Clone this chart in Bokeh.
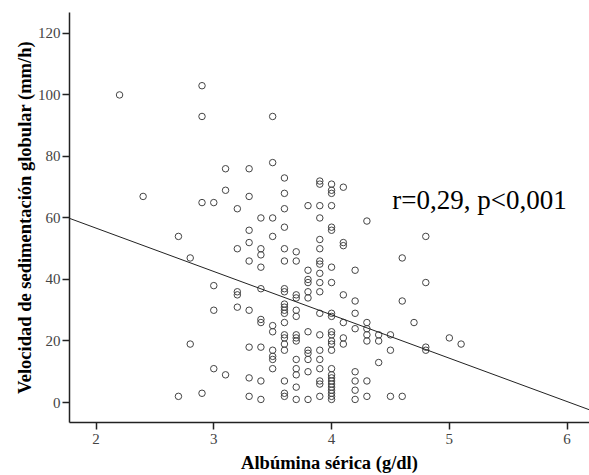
from bokeh.plotting import figure
from bokeh.models import Range1d, Slope, Label, FixedTicker
from bokeh.embed import file_html
from bokeh.resources import INLINE

# Albúmina sérica (g/dl), one entry per patient
albumina = (
    [2.2]
    + [2.4]
    + [2.7, 2.7]
    + [2.8, 2.8]
    + [2.9, 2.9, 2.9, 2.9]
    + [3.0, 3.0, 3.0, 3.0]
    + [3.1, 3.1, 3.1]
    + [3.2, 3.2, 3.2, 3.2, 3.2]
    + [3.3, 3.3, 3.3, 3.3, 3.3, 3.3, 3.3, 3.3, 3.3]
    + [3.4, 3.4, 3.4, 3.4, 3.4, 3.4, 3.4, 3.4, 3.4, 3.4]
    + [3.5, 3.5, 3.5, 3.5, 3.5, 3.5, 3.5, 3.5, 3.5, 3.5]
    + [3.6, 3.6, 3.6, 3.6, 3.6, 3.6, 3.6, 3.6, 3.6, 3.6,
       3.6, 3.6, 3.6, 3.6, 3.6, 3.6, 3.6, 3.6, 3.6, 3.6]
    + [3.7, 3.7, 3.7, 3.7, 3.7, 3.7, 3.7, 3.7, 3.7, 3.7, 3.7, 3.7, 3.7, 3.7]
    + [3.8, 3.8, 3.8, 3.8, 3.8, 3.8, 3.8, 3.8, 3.8, 3.8, 3.8, 3.8]
    + [3.9, 3.9, 3.9, 3.9, 3.9, 3.9, 3.9, 3.9, 3.9, 3.9,
       3.9, 3.9, 3.9, 3.9, 3.9, 3.9, 3.9, 3.9, 3.9]
    + [4.0, 4.0, 4.0, 4.0, 4.0, 4.0, 4.0, 4.0, 4.0, 4.0,
       4.0, 4.0, 4.0, 4.0, 4.0, 4.0, 4.0, 4.0, 4.0, 4.0,
       4.0, 4.0, 4.0, 4.0, 4.0]
    + [4.1, 4.1, 4.1, 4.1, 4.1, 4.1, 4.1]
    + [4.2, 4.2, 4.2, 4.2, 4.2, 4.2, 4.2, 4.2]
    + [4.3, 4.3, 4.3, 4.3, 4.3, 4.3, 4.3]
    + [4.4, 4.4, 4.4]
    + [4.5, 4.5, 4.5]
    + [4.6, 4.6, 4.6]
    + [4.7]
    + [4.8, 4.8, 4.8, 4.8]
    + [5.0]
    + [5.1]
)

# Velocidad de sedimentación globular (mm/h), same order
vsg = (
    [100]
    + [67]
    + [54, 2]
    + [47, 19]
    + [103, 93, 65, 3]
    + [65, 38, 30, 11]
    + [76, 69, 9]
    + [63, 50, 36, 35, 31]
    + [76, 67, 56, 52, 46, 30, 18, 8, 2]
    + [60, 50, 48, 44, 37, 27, 26, 18, 7, 1]
    + [93, 78, 60, 54, 25, 23, 17, 15, 14, 11]
    + [73, 68, 63, 57, 50, 46, 37, 36, 32, 31,
       30, 29, 26, 22, 21, 19, 17, 7, 3, 2]
    + [49, 46, 35, 34, 30, 28, 22, 21, 20, 14, 11, 9, 5, 1]
    + [64, 43, 40, 39, 36, 34, 23, 17, 16, 14, 10, 1]
    + [72, 71, 64, 60, 53, 50, 46, 45, 42, 39,
       36, 29, 22, 17, 14, 11, 7, 6, 2]
    + [71, 69, 68, 64, 57, 56, 44, 39, 29, 28,
       23, 22, 20, 19, 17, 11, 9, 8, 7, 6,
       5, 4, 3, 2, 1]
    + [70, 52, 51, 35, 26, 21, 19]
    + [43, 33, 29, 24, 10, 7, 4, 1]
    + [59, 26, 24, 22, 20, 7, 2]
    + [22, 20, 13]
    + [22, 17, 2]
    + [47, 33, 2]
    + [26]
    + [54, 39, 18, 17]
    + [21]
    + [19]
)

x_ticks = [2, 3, 4, 5, 6]
y_ticks = [0, 20, 40, 60, 80, 100, 120]

# fitted regression line
fit_intercept = 84.9
fit_slope = -14.1
annotation = "r=0,29, p<0,001"

SERIF = "Liberation Serif"

p = figure(
    width=589, height=475,
    x_range=Range1d(1.775, 6.19), y_range=Range1d(-6.5, 126.8),
    output_backend="svg", toolbar_location=None,
    min_border_left=69, min_border_right=0, min_border_top=12, min_border_bottom=53,
)
p.outline_line_color = None
p.xgrid.visible = False
p.ygrid.visible = False
p.background_fill_color = "white"
p.border_fill_color = "white"

p.scatter(albumina, vsg, marker="circle", size=6.5,
          fill_color=None, line_color="#444444", line_width=1)

p.add_layout(Slope(gradient=fit_slope, y_intercept=fit_intercept,
                   line_color="#222222", line_width=1))

p.add_layout(Label(x=4.515, y=65.8, text=annotation,
                   text_font=SERIF, text_font_size="27px",
                   text_color="black", text_baseline="alphabetic"))

for ax in (p.xaxis[0], p.yaxis[0]):
    ax.axis_line_color = "#222222"
    ax.axis_line_width = 1.5
    ax.major_tick_line_color = "#222222"
    ax.major_tick_line_width = 1.5
    ax.major_tick_out = 7
    ax.major_tick_in = 0
    ax.minor_tick_line_color = None
    ax.major_label_text_font = SERIF
    ax.major_label_text_font_size = "15px"
    ax.major_label_text_color = "#444444"
    ax.axis_label_text_font = SERIF
    ax.axis_label_text_font_size = "18.5px"
    ax.axis_label_text_font_style = "bold"
    ax.axis_label_text_color = "black"

p.xaxis.ticker = FixedTicker(ticks=x_ticks)
p.yaxis.ticker = FixedTicker(ticks=y_ticks)
p.xaxis.axis_label = "Albúmina sérica (g/dl)"
p.yaxis.axis_label = "Velocidad de sedimentación globular (mm/h)"
p.xaxis.major_label_standoff = 4
p.yaxis.major_label_standoff = 2
p.xaxis.axis_label_standoff = 6
p.yaxis.axis_label_standoff = 0

open("out.html", "w").write(file_html(p, INLINE))
